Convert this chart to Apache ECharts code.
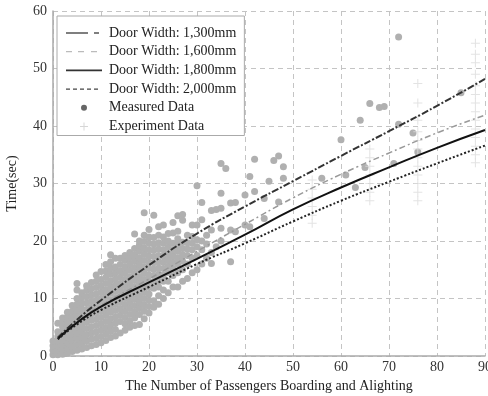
<!DOCTYPE html>
<html>
<head>
<meta charset="utf-8">
<script src="https://cdn.jsdelivr.net/npm/echarts@6/dist/echarts.min.js"></script>
<style>
  html, body { margin: 0; padding: 0; background: #fff; }
  #main { width: 488px; height: 396px; }
</style>
</head>
<body>
<div id="main"></div>
<script>
// fitted curves
const curveX = [1, 5, 10, 20, 30, 40, 50, 60, 70, 80, 90];
const door1300 = [3.2, 6.3, 9.7, 15.8, 21.3, 26.0, 30.4, 34.8, 39.1, 43.5, 48.2];
const door1600 = [3.0, 5.9, 8.8, 13.4, 18.2, 22.9, 27.5, 31.6, 35.3, 38.8, 41.9];
const door1800 = [3.0, 5.8, 8.6, 12.8, 16.9, 21.1, 25.5, 29.3, 32.8, 36.2, 39.3];
const door2000 = [2.9, 5.5, 8.0, 12.0, 16.0, 19.6, 23.4, 27.0, 30.3, 33.5, 36.6];

// measured data: [passengers, times...] per column
const measuredCols = [
  [0, [0.2, 1.0, 1.8, 2.6]],
  [1, [0.2, 1.0, 1.8, 2.6, 3.4, 4.2, 5.7]],
  [2, [0.3, 1.1, 1.9, 2.7, 3.5, 4.3, 5.1, 5.9, 6.6]],
  [3, [0.5, 1.4, 2.3, 3.2, 4.1, 5.0, 5.9, 6.8, 7.6]],
  [4, [0.8, 1.8, 2.8, 3.8, 4.8, 5.8, 6.8, 7.8, 8.8]],
  [5, [1.0, 2.0, 3.0, 4.0, 5.0, 6.0, 7.0, 8.0, 9.0, 10.0, 11.5, 12.6]],
  [6, [1.2, 2.2, 3.2, 4.2, 5.2, 6.2, 7.2, 8.2, 9.2, 10.2, 11.0]],
  [7, [1.5, 2.6, 3.7, 4.8, 5.9, 7.0, 8.1, 9.2, 10.3, 11.4, 12.2]],
  [8, [1.8, 2.9, 4.0, 5.1, 6.2, 7.3, 8.4, 9.5, 10.6, 11.7, 12.8]],
  [9, [2.0, 3.1, 4.2, 5.3, 6.4, 7.5, 8.6, 9.7, 10.8, 11.9, 13.0, 14.1]],
  [10, [2.3, 3.4, 4.5, 5.6, 6.7, 7.8, 8.9, 10.0, 11.1, 12.2, 13.3, 14.7]],
  [11, [2.7, 3.8, 4.9, 6.0, 7.1, 8.2, 9.3, 10.4, 11.5, 12.6, 13.7, 14.8, 15.9]],
  [12, [3.2, 4.3, 5.4, 6.5, 7.6, 8.7, 9.8, 10.9, 12.0, 13.1, 14.2, 15.3, 16.4, 17.6]],
  [13, [3.5, 4.6, 5.7, 6.8, 7.9, 9.0, 10.1, 11.2, 12.3, 13.4, 14.5, 15.5, 17.0]],
  [14, [4.0, 6.0, 7.1, 8.2, 9.3, 10.4, 11.5, 12.6, 13.7, 14.8, 15.9, 17.0]],
  [15, [4.5, 5.6, 6.7, 7.8, 8.9, 10.0, 11.1, 12.2, 13.3, 14.4, 15.5, 16.6, 17.5]],
  [16, [5.0, 6.1, 7.2, 8.3, 9.4, 10.5, 11.6, 12.7, 13.8, 14.9, 16.0, 17.1, 18.0]],
  [17, [5.3, 6.6, 7.7, 8.8, 9.9, 11.0, 12.1, 13.2, 14.3, 15.4, 16.5, 17.6, 18.7, 21.2]],
  [18, [5.5, 7.2, 8.3, 9.4, 10.5, 11.6, 12.7, 13.8, 14.9, 16.0, 17.1, 18.2, 19.3, 20.0]],
  [19, [6.5, 7.8, 8.9, 10.0, 11.1, 12.2, 13.3, 14.4, 15.5, 16.6, 17.7, 18.8, 19.9, 21.0, 24.9]],
  [20, [7.5, 8.6, 9.7, 10.8, 11.9, 13.0, 14.1, 15.2, 16.3, 17.4, 18.5, 19.6, 20.7, 22.0]],
  [21, [8.5, 9.6, 11.8, 12.9, 14.0, 15.1, 16.2, 17.3, 18.4, 19.5, 20.6, 24.5]],
  [22, [9.0, 10.5, 12.0, 13.1, 14.2, 15.3, 16.4, 17.5, 18.6, 19.7, 21.0, 22.5]],
  [23, [10.0, 11.5, 13.0, 14.1, 15.2, 16.3, 17.4, 18.5, 19.6, 20.7, 22.8]],
  [24, [11.0, 13.0, 14.5, 15.6, 16.7, 17.8, 18.9, 20.0, 21.3]],
  [25, [12.0, 14.0, 15.2, 16.3, 17.4, 18.5, 19.6, 21.4, 23.2]],
  [26, [12.0, 14.5, 16.0, 17.1, 18.2, 19.3, 20.4, 21.7, 24.4]],
  [27, [13.0, 15.0, 16.5, 17.6, 18.7, 19.8, 23.6, 24.6]],
  [28, [13.5, 16.0, 17.5, 18.6, 19.7, 21.0]],
  [29, [14.5, 17.0, 18.5, 19.6, 20.8, 22.8]],
  [30, [15.0, 17.5, 19.0, 20.2, 22.8, 29.6]],
  [31, [16.0, 18.5, 20.0, 23.7, 26.7]],
  [32, [17.0, 19.5, 21.0]],
  [33, [16.1, 18.0, 21.9, 25.3]],
  [34, [19.0, 25.5]],
  [35, [20.0, 22.2, 25.7, 28.3, 33.5]],
  [36, [32.6]],
  [37, [16.4, 21.9, 26.6]],
  [38, [21.6, 26.7]],
  [40, [22.8, 28.0]],
  [41, [22.5, 31.2]],
  [42, [28.6, 34.2]],
  [44, [23.9, 27.4]],
  [45, [30.4]],
  [46, [34.0]],
  [47, [34.8, 26.8]],
  [48, [32.9, 30.9]],
  [56, [30.9]],
  [60, [37.6]],
  [61, [31.5]],
  [63, [29.3]],
  [64, [41.0]],
  [65, [32.8]],
  [66, [43.9]],
  [68, [43.2]],
  [69, [43.4]],
  [71, [33.5]],
  [72, [40.3, 55.5]],
  [75, [38.8]],
  [76, [35.5]],
  [85, [45.8]]
];

// experiment data columns
const experimentCols = [
  [54, [23.1, 24.5, 26.0, 27.5, 29.0, 30.6]],
  [66, [27.0, 28.5, 30.0, 31.5, 33.0, 34.5, 36.0]],
  [76, [27.0, 28.5, 30.0, 31.5, 33.0, 34.5, 36.0, 37.5, 39.0, 41.0, 44.0, 47.4]],
  [88, [33.6, 35.0, 36.5, 38.0, 39.5, 41.0, 42.5, 44.0, 45.5, 47.0, 49.0, 51.0, 52.5, 54.4]]
];

const names = [
  "Door Width: 1,300mm",
  "Door Width: 1,600mm",
  "Door Width: 1,800mm",
  "Door Width: 2,000mm",
  "Measured Data",
  "Experiment Data"
];

const flatten = cols => cols.flatMap(([x, ys]) => ys.map(y => [x, y]));
const pairs = ys => curveX.map((x, i) => [x, ys[i]]);

const font = "'Liberation Serif', 'DejaVu Serif', serif";
const plus = "path://M4,0h1v4h4v1h-4v4h-1v-4h-4v-1h4z";
// legend icons: the leading M0,0M40,12 keeps the 40x12 box
const box = "path://M0,0M40,12";
const icons = [
  box + "M2,5.3h22v1.4h-22zM30,5.3h5v1.4h-5z",
  box + "M2,5.3h6v1.2h-6zM14,5.3h6v1.2h-6zM27,5.3h6v1.2h-6z",
  box + "M2,5.2h36v1.6h-36z",
  box + "M2,5.3h4v1.3h-4zM9,5.3h4v1.3h-4zM16,5.3h4v1.3h-4zM23,5.3h4v1.3h-4zM30,5.3h4v1.3h-4z",
  box + "M17,6a3,3 0 1,0 6,0a3,3 0 1,0 -6,0z",
  box + "M19.5,2h1v3.5h3.5v1h-3.5v3.5h-1v-3.5h-3.5v-1h3.5z"
];

const chart = echarts.init(document.getElementById("main"));

const lineSeries = (name, ys, color, width, type) => ({
  name,
  type: "line",
  data: pairs(ys),
  smooth: true,
  symbol: "none",
  z: 5,
  lineStyle: { color, width, type },
  itemStyle: { color }
});

chart.setOption({
  animation: false,
  backgroundColor: "#fff",
  grid: { left: 53, right: 3, top: 11, bottom: 40, outerBoundsMode: "none" },
  legend: {
    orient: "vertical",
    left: 57,
    top: 16,
    padding: [10, 8, 2, 7],
    itemWidth: 40,
    itemHeight: 12,
    itemGap: 4.7,
    backgroundColor: "#fff",
    borderColor: "#aaa",
    borderWidth: 1,
    textStyle: { fontFamily: font, fontSize: 14, color: "#222" },
    data: [
      { name: names[0], icon: icons[0], itemStyle: { color: "#555" } },
      { name: names[1], icon: icons[1], itemStyle: { color: "#bbb" } },
      { name: names[2], icon: icons[2], itemStyle: { color: "#333" } },
      { name: names[3], icon: icons[3], itemStyle: { color: "#444" } },
      { name: names[4], icon: icons[4], itemStyle: { color: "#666" } },
      { name: names[5], icon: icons[5], itemStyle: { color: "#ccc" } }
    ]
  },
  xAxis: {
    type: "value",
    min: 0,
    max: 90,
    interval: 10,
    name: "The Number of Passengers Boarding and Alighting",
    nameLocation: "middle",
    nameGap: 23,
    nameTextStyle: { fontFamily: font, fontSize: 14, color: "#222" },
    axisLine: { lineStyle: { color: "#aaa", width: 1.5 } },
    axisTick: { show: false },
    axisLabel: { fontFamily: font, fontSize: 14, color: "#333", margin: 4 },
    splitLine: { lineStyle: { color: "#c4c4c4", type: [5, 4] } }
  },
  yAxis: {
    type: "value",
    min: 0,
    max: 60,
    interval: 10,
    name: "Time(sec)",
    nameLocation: "middle",
    nameGap: 34,
    nameTextStyle: { fontFamily: font, fontSize: 14, color: "#222" },
    axisLine: { show: true, lineStyle: { color: "#aaa", width: 1.5 } },
    axisTick: { show: false },
    axisLabel: { fontFamily: font, fontSize: 14, color: "#333", margin: 6 },
    splitLine: { lineStyle: { color: "#c4c4c4", type: [5, 4] } }
  },
  series: [
    {
      name: names[4],
      type: "scatter",
      data: flatten(measuredCols),
      symbol: "circle",
      symbolSize: 7,
      z: 2,
      itemStyle: { color: "#b0b0b0", opacity: 1 }
    },
    {
      name: names[5],
      type: "scatter",
      data: flatten(experimentCols),
      symbol: plus,
      symbolSize: 9,
      z: 3,
      itemStyle: { color: "#dcdcdc" }
    },
    lineSeries(names[0], door1300, "#333", 2, [7, 2, 2, 2]),
    lineSeries(names[1], door1600, "#999", 1.5, [6, 3, 2, 3]),
    lineSeries(names[2], door1800, "#111", 2, "solid"),
    lineSeries(names[3], door2000, "#222", 2, [2, 2])
  ]
});
</script>
</body>
</html>
